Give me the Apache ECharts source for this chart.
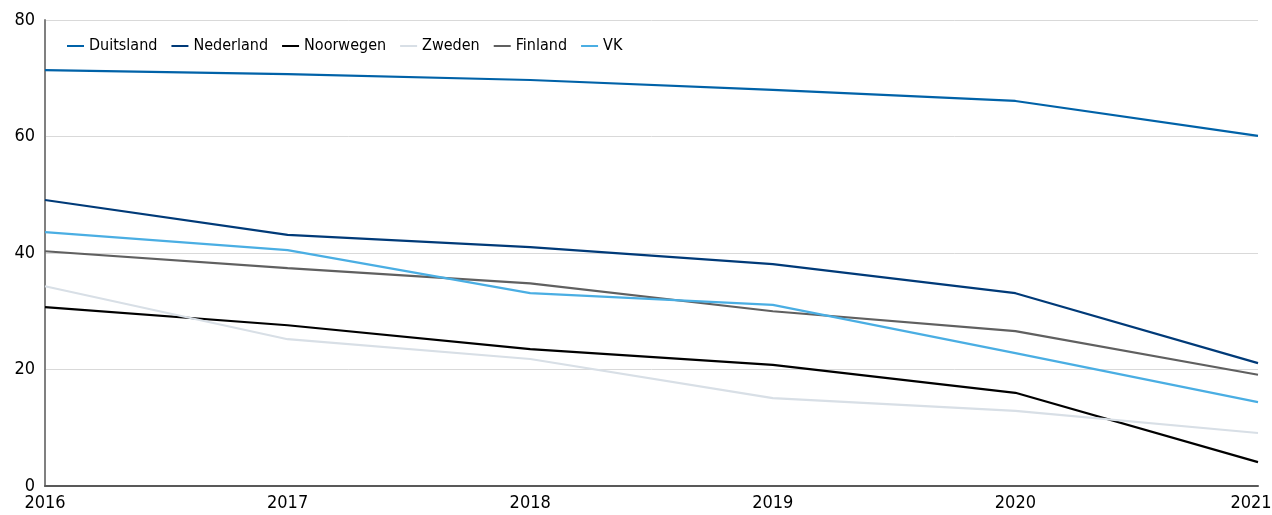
<!DOCTYPE html>
<html>
<head>
<meta charset="utf-8">
<script src="https://cdn.jsdelivr.net/npm/echarts@6/dist/echarts.min.js"></script>
<style>
  html, body { margin: 0; padding: 0; background: #fff; }
  #chart { width: 1272px; height: 515px; }
</style>
</head>
<body>
<div id="chart"></div>
<script>
// jaren
const years = ['2016', '2017', '2018', '2019', '2020', '2021']
// waarden per land
const duitsland = [71.4, 70.7, 69.7, 68.0, 66.1, 60.1]
const nederland = [49.1, 43.1, 41.0, 38.1, 33.1, 21.1]
const noorwegen = [30.7, 27.6, 23.5, 20.8, 16.0, 4.1]
const zweden = [34.3, 25.2, 21.8, 15.1, 12.9, 9.1]
const finland = [40.3, 37.4, 34.8, 30.0, 26.6, 19.1]
const vk = [43.6, 40.5, 33.1, 31.1, 22.8, 14.4]

const font = '"Liberation Sans Narrow", "DejaVu Sans Condensed", sans-serif'

const myChart = echarts.init(document.getElementById('chart'))

function line (name, data, color) {
  return {
    name: name,
    type: 'line',
    data: data,
    symbol: 'none',
    lineStyle: { color: color, width: 2.2 },
    itemStyle: { color: color }
  }
}

const option = {
  animation: false,
  textStyle: { fontFamily: font },
  // legenda
  legend: {
    left: 62,
    top: 33,
    itemWidth: 17,
    itemHeight: 2,
    itemGap: 14,
    icon: 'rect',
    textStyle: { fontFamily: font, fontSize: 16, color: '#000' }
  },
  grid: {
    left: 45,
    right: 14,
    top: 20,
    bottom: 29,
    outerBoundsMode: 'none',
    containLabel: false
  },
  xAxis: {
    type: 'category',
    boundaryGap: false,
    data: years,
    axisTick: { show: false },
    axisLine: { lineStyle: { color: '#595959', width: 2 } },
    axisLabel: {
      fontFamily: font,
      fontSize: 18,
      color: '#000',
      margin: 8,
      // laatste jaar iets naar links zodat het binnen beeld blijft
      formatter: function (value, index) {
        return index === years.length - 1 ? '{last|' + value + '}' : value
      },
      rich: {
        last: { fontFamily: font, fontSize: 18, color: '#000', padding: [0, 14, 0, 0] }
      }
    }
  },
  yAxis: {
    type: 'value',
    min: 0,
    max: 80,
    interval: 20,
    axisLine: { show: true, lineStyle: { color: '#808080', width: 2 } },
    axisTick: { show: false },
    splitLine: { lineStyle: { color: '#d9d9d9', width: 1 } },
    axisLabel: { fontFamily: font, fontSize: 18, color: '#000', margin: 10 }
  },
  series: [
    line('Duitsland', duitsland, '#0062a8'),
    line('Nederland', nederland, '#003a78'),
    line('Noorwegen', noorwegen, '#000000'),
    line('Zweden', zweden, '#d8dfe6'),
    line('Finland', finland, '#606060'),
    line('VK', vk, '#4aaee3')
  ]
}

myChart.setOption(option)
</script>
</body>
</html>
